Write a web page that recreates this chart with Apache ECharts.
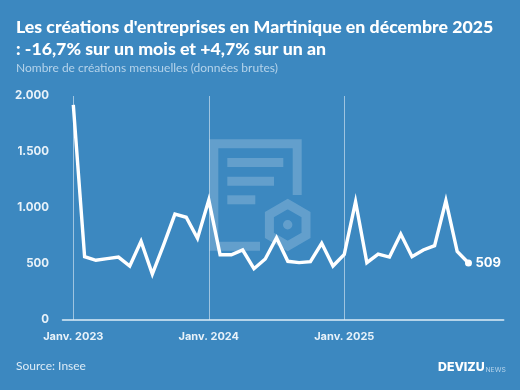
<!DOCTYPE html>
<html>
<head>
<meta charset="utf-8">
<style>html,body{margin:0;padding:0;background:#3c88c0}#chart{width:520px;height:390px}</style>
<script src="https://cdn.jsdelivr.net/npm/echarts@6/dist/echarts.min.js"></script>
</head>
<body>
<div id="chart"></div>
<script>
var months = ['2023-01','2023-02','2023-03','2023-04','2023-05','2023-06','2023-07','2023-08','2023-09','2023-10','2023-11','2023-12',
  '2024-01','2024-02','2024-03','2024-04','2024-05','2024-06','2024-07','2024-08','2024-09','2024-10','2024-11','2024-12',
  '2025-01','2025-02','2025-03','2025-04','2025-05','2025-06','2025-07','2025-08','2025-09','2025-10','2025-11','2025-12'];
var creations = [1920,565,533,548,562,482,702,410,670,946,917,729,
  1071,583,583,625,458,545,735,524,512,521,685,482,
  586,1056,512,589,562,768,565,625,664,1065,613,509];
var xTickMonths = ['2023-01','2024-01','2025-01'];
var xTickLabels = ['Janv. 2023','Janv. 2024','Janv. 2025'];
var yTicks = [0,500,1000,1500,2000];
var titleText = "Les créations d'entreprises en Martinique en décembre 2025\n: -16,7% sur un mois et +4,7% sur un an";
var subText = 'Nombre de créations mensuelles (données brutes)';

var labelFont = 'Inter';
var wm = 'rgba(255,255,255,0.2)';
var tickPos = xTickMonths.map(function (m) { return months.indexOf(m); });
var seriesData = creations.map(function (v, i) { return [i, v]; });
var last = creations.length - 1;

function fmtY(v) {
    return v >= 1000 ? Math.floor(v / 1000) + '.' + ('00' + (v % 1000)).slice(-3) : '' + v;
}

var chart = echarts.init(document.getElementById('chart'));
chart.setOption({
    backgroundColor: '#3c88c0',
    animation: false,
    title: [
        {text: titleText, left: 16, top: 16.5, textStyle: {color: '#fff', fontFamily: 'Lato', fontWeight: 900, fontSize: 17.7, lineHeight: 22}, padding: 0},
        {text: subText, left: 16, top: 62, textStyle: {color: '#b5d3ea', fontFamily: 'Lato', fontWeight: 'normal', fontSize: 12}, padding: 0},
        {text: 'Source: Insee', left: 16, top: 360, textStyle: {color: '#dcebf6', fontFamily: 'Lato', fontWeight: 'normal', fontSize: 12}, padding: 0}
    ],
    grid: {left: 62.5, right: 16.3, top: 96, bottom: 70},
    xAxis: {
        type: 'value',
        min: -0.957,
        max: 38.12,
        axisLine: {show: true, onZero: false, lineStyle: {color: '#dcebf6', width: 1.5}},
        axisTick: {show: false, customValues: tickPos},
        axisLabel: {
            show: true,
            customValues: tickPos,
            margin: 11,
            color: '#e8f2f9',
            fontFamily: labelFont,
            fontWeight: 'bold',
            fontSize: 11,
            formatter: function (v) { return xTickLabels[tickPos.indexOf(v)]; }
        },
        splitLine: {show: true, lineStyle: {color: 'rgba(255,255,255,0.5)', width: 1}}
    },
    yAxis: {
        type: 'value',
        min: 0,
        max: 2000,
        interval: 500,
        axisLine: {show: false},
        axisTick: {show: false},
        axisLabel: {
            margin: 13.5,
            padding: [2, 0, 0, 0],
            color: '#e8f2f9',
            fontFamily: labelFont,
            fontWeight: 'bold',
            fontSize: 11.5,
            formatter: function (v) { return yTicks.indexOf(v) >= 0 ? fmtY(v) : ''; }
        },
        splitLine: {show: false}
    },
    graphic: [
        // filigrane document + hexagone
        {type: 'polyline', z: 0, silent: true, shape: {points: [[260, 246.2], [213.8, 246.2], [213.8, 143.8], [297.2, 143.8], [297.2, 195]]}, style: {stroke: wm, fill: null, lineWidth: 9}},
        {type: 'rect', z: 0, silent: true, shape: {x: 227.3, y: 158, width: 56, height: 9}, style: {fill: wm}},
        {type: 'rect', z: 0, silent: true, shape: {x: 227.3, y: 176.7, width: 46.7, height: 9}, style: {fill: wm}},
        {type: 'rect', z: 0, silent: true, shape: {x: 227.3, y: 195.3, width: 28, height: 9}, style: {fill: wm}},
        {type: 'polygon', z: 0, silent: true, shape: {points: [[287.7, 204], [306, 214.5], [306, 235.5], [287.7, 246], [269.4, 235.5], [269.4, 214.5]]}, style: {stroke: wm, fill: null, lineWidth: 9}},
        {type: 'circle', z: 0, silent: true, shape: {cx: 287.7, cy: 224.7, r: 4.7}, style: {fill: wm}},
        // logo
        {type: 'text', z: 5, silent: true, x: 438, y: 361, style: {text: 'DEVIZU', fill: '#fff', font: '800 12.3px Inter'}},
        {type: 'text', z: 5, silent: true, x: 485.5, y: 366.5, style: {text: 'NEWS', fill: '#b5d3ea', font: '6.8px Inter'}}
    ],
    series: [{
        type: 'line',
        z: 3,
        data: seriesData,
        symbol: function (v, p) { return p.dataIndex === last ? 'circle' : 'none'; },
        symbolSize: 7,
        showAllSymbol: true,
        itemStyle: {color: '#fff'},
        lineStyle: {color: '#fff', width: 3.4, join: 'miter', cap: 'butt', miterLimit: 10},
        endLabel: {
            show: true,
            distance: 7,
            color: '#fff',
            fontFamily: labelFont,
            fontWeight: 'bold',
            fontSize: 13,
            formatter: function (p) { return '' + p.value[1]; }
        }
    }]
});
</script>
</body>
</html>
